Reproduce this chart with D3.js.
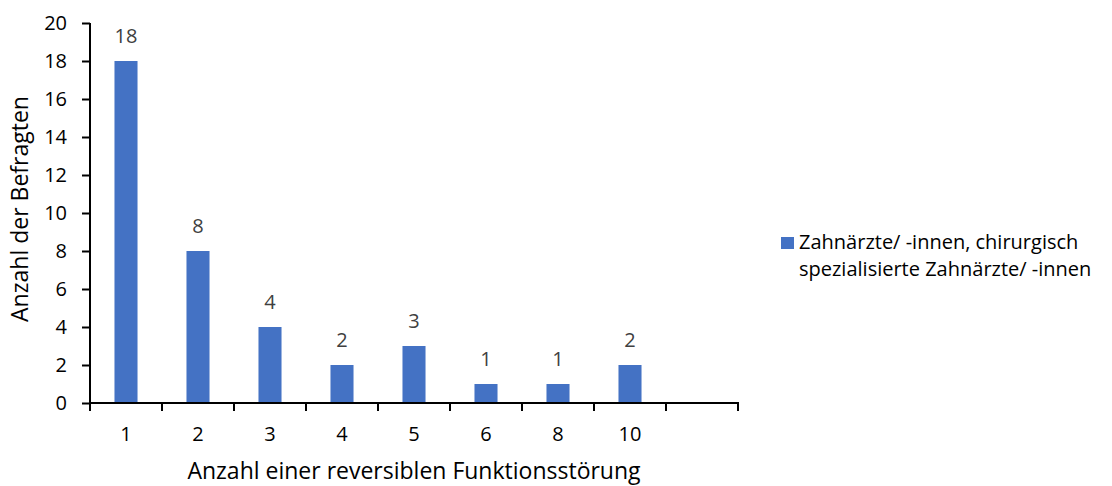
<!DOCTYPE html>
<html><head><meta charset="utf-8">
<script src="https://cdn.jsdelivr.net/npm/d3@7"></script>
<style>body{margin:0;background:#fff}svg{display:block}</style>
</head><body>
<script>
const categories = ["1","2","3","4","5","6","8","10",""];
const values = [18,8,4,2,3,1,1,2,null];
const yTicks = [0,2,4,6,8,10,12,14,16,18,20];
const seriesName = ["Zahnärzte/ -innen, chirurgisch","spezialisierte Zahnärzte/ -innen"];
const xTitle = "Anzahl einer reversiblen Funktionsstörung";
const yTitle = "Anzahl der Befragten";

const W=1112,H=486;
const font = "'Open Sans', sans-serif";
const svg = d3.select("body").append("svg").attr("width",W).attr("height",H);
const x = d3.scaleBand().domain(categories.map((c,i)=>i)).range([90,738]).paddingInner(0.68).paddingOuter(0.34);
const y = d3.scaleLinear().domain([0,20]).range([403,23]);

// bars
svg.selectAll("rect.bar").data(values.map((v,i)=>({v,i})).filter(d=>d.v!=null))
  .enter().append("rect").attr("class","bar")
  .attr("x",d=>x(d.i)).attr("width",x.bandwidth())
  .attr("y",d=>y(d.v)).attr("height",d=>y(0)-y(d.v))
  .attr("fill","#4472C4");

// data labels
svg.selectAll("text.lbl").data(values.map((v,i)=>({v,i})).filter(d=>d.v!=null))
  .enter().append("text").attr("class","lbl")
  .attr("x",d=>x(d.i)+x.bandwidth()/2).attr("y",d=>y(d.v)-18)
  .attr("text-anchor","middle").attr("font-family",font).attr("font-size",20)
  .attr("fill","#404040").text(d=>d.v);

// y axis
const ya = svg.append("g").attr("transform","translate(90,0)")
  .call(d3.axisLeft(y).tickValues(yTicks).tickSize(8).tickPadding(15));
ya.select(".domain").attr("stroke","#000").attr("stroke-width",2).attr("d","M0,403V23");
ya.selectAll(".tick line").attr("stroke","#000").attr("stroke-width",2);
ya.selectAll(".tick text").attr("font-family",font).attr("font-size",20).attr("fill","#000");

// x axis with ticks at band boundaries
const xa = svg.append("g").attr("transform","translate(0,403)");
xa.append("line").attr("x1",89).attr("x2",739).attr("stroke","#000").attr("stroke-width",2);
const bounds = d3.range(categories.length+1).map(i=>90+i*x.step());
xa.selectAll("line.t").data(bounds).enter().append("line").attr("class","t")
  .attr("x1",d=>d).attr("x2",d=>d).attr("y1",0).attr("y2",8).attr("stroke","#000").attr("stroke-width",2);
xa.selectAll("text").data(categories.map((c,i)=>({c,i}))).enter().append("text")
  .attr("x",d=>x(d.i)+x.bandwidth()/2).attr("y",38).attr("text-anchor","middle")
  .attr("font-family",font).attr("font-size",20).attr("fill","#000").text(d=>d.c);

// titles
svg.append("text").attr("x",414).attr("y",479).attr("text-anchor","middle")
  .attr("font-family",font).attr("font-size",23).attr("fill","#000").text(xTitle);
svg.append("text").attr("transform","translate(28,209) rotate(-90)").attr("text-anchor","middle")
  .attr("font-family",font).attr("font-size",23).attr("fill","#000").text(yTitle);

// legend
svg.append("rect").attr("x",781).attr("y",237).attr("width",13).attr("height",12).attr("fill","#4472C4");
const lt = svg.append("text").attr("font-family",font).attr("font-size",20).attr("fill","#000");
seriesName.forEach((s,i)=>lt.append("tspan").attr("x",799).attr("y",249+i*27).text(s));
</script>
</body></html>
